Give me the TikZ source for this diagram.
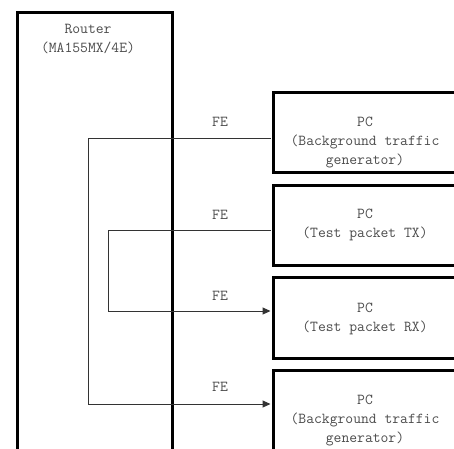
\documentclass[tikz,border=0pt]{standalone}
\usetikzlibrary{arrows.meta}
\begin{document}
\begin{tikzpicture}[x=1pt,y=-1pt,
  box/.style={draw=black,line width=3pt,inner sep=0pt,anchor=north west,minimum width=190pt},
  txt/.style={font=\ttfamily\fontsize{15.2}{19}\selectfont,text=black!70,align=center,inner sep=0pt,anchor=north},
  lbl/.style={font=\ttfamily\fontsize{15.2}{16}\selectfont,text=black!70,inner sep=0pt},
  link/.style={draw=black!80,line width=1pt},
  arr/.style={link,-{Triangle[length=8pt,width=7pt]}}]
\clip (0,0) rectangle (454,448);
\fill[white] (0,0) rectangle (454,448);
% boxes
\node[box,minimum width=155pt,minimum height=470pt] (router) at (15.5,11) {};
\node[box,minimum height=80pt] (pc1) at (272,91) {};
\node[box,minimum height=80pt] (pc2) at (272,184) {};
\node[box,minimum height=81pt] (pc3) at (272,276) {};
\node[box,minimum height=110pt] (pc4) at (272,369) {};
% texts
\node[txt] (trouter) at (88,24.5) {Router\\(MA155MX/4E)};
\node[txt] (t1) at (365,117) {PC\\(Background traffic\\generator)};
\node[txt] (t2) at (365,208.5) {PC\\(Test packet TX)};
\node[txt] (t3) at (365,302.5) {PC\\(Test packet RX)};
\node[txt] (t4) at (365,394.5) {PC\\(Background traffic\\generator)};
% FE labels
\node[lbl] (fe1) at (220,122) {FE};
\node[lbl] (fe2) at (220,215) {FE};
\node[lbl] (fe3) at (220,296) {FE};
\node[lbl] (fe4) at (220,387) {FE};
% connector points
\coordinate (p1) at (270.5,138);
\coordinate (p4) at (270.5,404);
\coordinate (p2) at (270.5,230);
\coordinate (p3) at (270.5,311);
\coordinate (k1) at (88,138);
\coordinate (k4) at (88,404);
\coordinate (k2) at (108,230);
\coordinate (k3) at (108,311);
\draw[arr] (p1) -- (k1) -- (k4) -- (p4);
\draw[arr] (p2) -- (k2) -- (k3) -- (p3);
\end{tikzpicture}
\end{document}
